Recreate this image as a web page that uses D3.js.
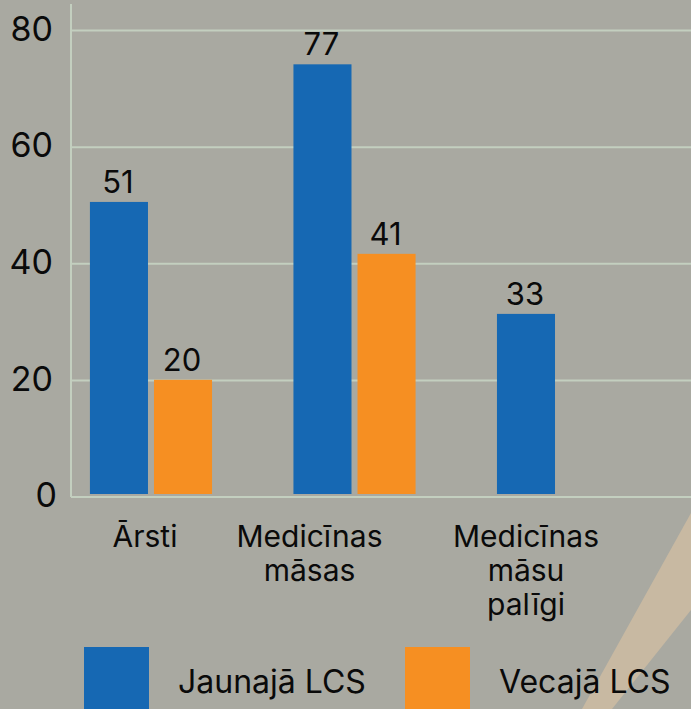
<!DOCTYPE html>
<html>
<head>
<meta charset="utf-8">
<script src="https://cdn.jsdelivr.net/npm/d3@7"></script>
<style>
  html, body { margin: 0; padding: 0; background: #a9a9a1; }
  svg { display: block; font-family: Inter, "Noto Sans", sans-serif; }
</style>
</head>
<body>
<div id="chart"></div>
<script>
// categories (split into lines as on the picture)
const categories = ['Ārsti', 'Medicīnas māsas', 'Medicīnas māsu palīgi'];
const categoryLines = [['Ārsti'], ['Medicīnas', 'māsas'], ['Medicīnas', 'māsu', 'palīgi']];

// series
const seriesNames = ['Jaunajā LCS', 'Vecajā LCS'];
// bar heights as drawn
const newValues = [50.6, 74.2, 31.4];
const oldValues = [20.1, 41.7, 0];
// printed value labels
const newLabels = [51, 77, 33];
const oldLabels = [20, 41, null];

const yTicks = [0, 20, 40, 60, 80];

const colors = ['#1668b3', '#f68f22'];

const width = 691, height = 709;

const svg = d3.select('#chart').append('svg')
    .attr('width', width)
    .attr('height', height);

svg.append('rect')
    .attr('width', width).attr('height', height)
    .attr('fill', '#a9a9a1');

// decorative beam bottom right
svg.append('path')
    .attr('d', 'M691,513 L691,610 L612,709 L582,709 Z')
    .attr('fill', '#c8b9a2');

const scaleY = d3.scaleLinear().domain([0, 80]).range([497, 30.5]);

const scaleX = d3.scaleBand()
    .domain(categories)
    .range([71, 638])
    .paddingInner(0.4)
    .paddingOuter(0.093);

const scaleS = d3.scaleBand()
    .domain(seriesNames)
    .range([0, scaleX.bandwidth()])
    .paddingInner(0.094);

// gridlines
svg.append('g')
    .selectAll('line')
    .data(yTicks)
    .join('line')
    .attr('x1', 71).attr('x2', width)
    .attr('y1', d => scaleY(d)).attr('y2', d => scaleY(d))
    .attr('stroke', '#c3cfbf')
    .attr('stroke-width', 2);

// vertical axis line
svg.append('line')
    .attr('x1', 71).attr('x2', 71)
    .attr('y1', 4).attr('y2', scaleY(0))
    .attr('stroke', '#c3cfbf')
    .attr('stroke-width', 2);

// y tick labels
svg.append('g')
    .selectAll('text')
    .data(yTicks)
    .join('text')
    .attr('x', d => d === 0 ? 57 : 53)
    .attr('y', d => scaleY(d) + 1)
    .attr('text-anchor', 'end')
    .attr('dominant-baseline', 'middle')
    .attr('font-size', 34)
    .attr('fill', '#0a0a0a')
    .text(d => d);

// bars
const rows = categories.map((c, i) => ({
    cat: c,
    vals: [
        {s: seriesNames[0], v: newValues[i], label: newLabels[i]},
        {s: seriesNames[1], v: oldValues[i], label: oldLabels[i]}
    ]
}));

const groups = svg.append('g')
    .selectAll('g')
    .data(rows)
    .join('g')
    .attr('transform', d => `translate(${scaleX(d.cat)},0)`);

groups.selectAll('rect')
    .data(d => d.vals.filter(e => e.v > 0))
    .join('rect')
    .attr('x', d => scaleS(d.s))
    .attr('y', d => scaleY(d.v))
    .attr('width', scaleS.bandwidth())
    .attr('height', d => scaleY(0) - 3 - scaleY(d.v))
    .attr('fill', d => colors[seriesNames.indexOf(d.s)]);

groups.selectAll('text')
    .data(d => d.vals.filter(e => e.label != null))
    .join('text')
    .attr('x', d => scaleS(d.s) + scaleS.bandwidth() / 2 - 1)
    .attr('y', d => scaleY(d.v) - 9)
    .attr('text-anchor', 'middle')
    .attr('font-size', 31)
    .attr('fill', '#0a0a0a')
    .text(d => d.label);

// category labels
const labelDx = [-6, -45, -32];
const catLabels = svg.append('g')
    .selectAll('text')
    .data(categories)
    .join('text')
    .attr('x', (d, i) => scaleX(d) + scaleX.bandwidth() / 2 + labelDx[i])
    .attr('y', 547)
    .attr('text-anchor', 'middle')
    .attr('font-size', 30)
    .attr('fill', '#0a0a0a');

catLabels.selectAll('tspan')
    .data((d, i) => categoryLines[i])
    .join('tspan')
    .attr('x', function () { return d3.select(this.parentNode).attr('x'); })
    .attr('dy', (d, j) => j === 0 ? 0 : 34)
    .text(d => d);

// legend
const legendX = [84, 405];
const legend = svg.append('g')
    .selectAll('g')
    .data(seriesNames)
    .join('g')
    .attr('transform', (d, i) => `translate(${legendX[i]},647)`);

legend.append('rect')
    .attr('width', 65).attr('height', 70)
    .attr('fill', (d, i) => colors[i]);

legend.append('text')
    .attr('x', 94)
    .attr('y', 46)
    .attr('font-size', 32)
    .attr('fill', '#0a0a0a')
    .text(d => d);
</script>
</body>
</html>
